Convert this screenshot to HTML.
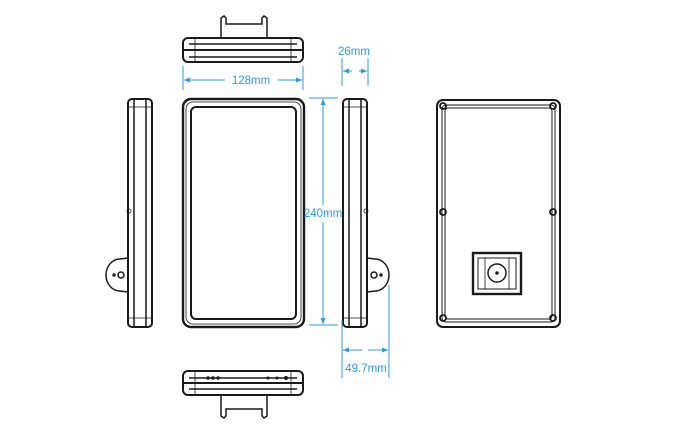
<!DOCTYPE html>
<html><head><style>html,body{margin:0;padding:0;background:#fff}svg{display:block}</style></head><body>
<svg width="685" height="435" viewBox="0 0 685 435" xmlns="http://www.w3.org/2000/svg" font-family="Liberation Sans, sans-serif">
<defs>
<marker id="a" markerWidth="6" markerHeight="6" refX="6" refY="3" orient="auto"><path d="M0,0.5 L6,3 L0,5.5 z" fill="#2a9be0"/></marker>
</defs>
<g fill="none" stroke="#1a1a1a" stroke-width="1.5">
<path d="M221,38 L221,18 L224,16 L226,18 L226,24 L262,24 L262,18 L264,16 L267,18 L267,38"/>
<rect x="183" y="38" width="120" height="24" rx="5" stroke-width="2"/>
<line x1="189" y1="44" x2="297" y2="44"/><line x1="183" y1="50" x2="303" y2="50" stroke-width="2"/><line x1="189" y1="57" x2="297" y2="57"/>
<line x1="195" y1="38" x2="195" y2="62" stroke-width="0.8"/><line x1="291" y1="38" x2="291" y2="62" stroke-width="0.8"/>
<rect x="183" y="99" width="121" height="228" rx="8" stroke-width="2.4"/>
<rect x="191" y="107" width="105" height="212" rx="5" stroke-width="2"/>
<rect x="186" y="102" width="115" height="222" rx="7" stroke-width="0.8"/>
<rect x="128" y="99" width="24" height="228" rx="4" stroke-width="2"/>
<line x1="134" y1="100" x2="134" y2="326"/><line x1="146" y1="100" x2="146" y2="326"/>
<line x1="129" y1="107" x2="151" y2="107" stroke-width="0.8"/><line x1="129" y1="318" x2="151" y2="318" stroke-width="0.8"/>
<path d="M128,258 L120,259 A14,16 0 0 0 120,291 L128,292"/>
<circle cx="121" cy="275" r="3"/><circle cx="114" cy="275" r="1"/>
<circle cx="129" cy="211" r="2" stroke-width="0.8"/>
<rect x="343" y="99" width="24" height="228" rx="4" stroke-width="2"/>
<line x1="349" y1="100" x2="349" y2="326"/><line x1="361" y1="100" x2="361" y2="326"/>
<line x1="344" y1="107" x2="366" y2="107" stroke-width="0.8"/><line x1="344" y1="318" x2="366" y2="318" stroke-width="0.8"/>
<path d="M367,258 L375,259 A14,16 0 0 1 375,291 L367,292"/>
<circle cx="374" cy="275" r="3"/><circle cx="381" cy="275" r="1"/>
<circle cx="366" cy="211" r="2" stroke-width="0.8"/>
<rect x="183" y="371" width="120" height="24" rx="5" stroke-width="2"/>
<line x1="189" y1="378" x2="297" y2="378"/><line x1="183" y1="383" x2="303" y2="383" stroke-width="2"/><line x1="189" y1="389" x2="297" y2="389"/>
<line x1="195" y1="371" x2="195" y2="395" stroke-width="0.8"/><line x1="291" y1="371" x2="291" y2="395" stroke-width="0.8"/>
<path d="M221,395 L221,416 L224,418 L226,416 L226,409 L262,409 L262,416 L264,418 L267,416 L267,395"/>
<circle cx="208" cy="378" r="1"/><circle cx="213" cy="378" r="1"/><circle cx="218" cy="378" r="1"/>
<circle cx="268" cy="378" r="0.8"/><circle cx="277" cy="378" r="0.8"/><circle cx="286" cy="378" r="1.3" fill="#222"/>
<rect x="437" y="100" width="123" height="227" rx="6" stroke-width="2"/>
<rect x="442" y="105" width="113" height="217" rx="4" stroke-width="1"/>
<rect x="445" y="108" width="107" height="211" rx="3" stroke-width="1"/>
<g stroke-width="1.8">
<circle cx="443" cy="106" r="3"/><circle cx="553" cy="106" r="3"/>
<circle cx="443" cy="212" r="3"/><circle cx="553" cy="212" r="3"/>
<circle cx="443" cy="318" r="3"/><circle cx="553" cy="318" r="3"/>
</g>
<rect x="473" y="253" width="48" height="41" stroke-width="2.4"/>
<rect x="478" y="258" width="38" height="31" stroke-width="1"/>
<circle cx="497" cy="273" r="9"/><circle cx="497" cy="273" r="1" fill="#222"/>
<line x1="485" y1="258" x2="485" y2="289" stroke-width="0.8"/><line x1="509" y1="258" x2="509" y2="289" stroke-width="0.8"/>
</g>
<g stroke="#2a9be0" stroke-width="1" fill="none">
<line x1="183" y1="66" x2="183" y2="90"/><line x1="303" y1="66" x2="303" y2="90"/>
<line x1="225" y1="80" x2="184" y2="80" marker-end="url(#a)"/><line x1="278" y1="80" x2="302" y2="80" marker-end="url(#a)"/>
<line x1="342" y1="58" x2="342" y2="86"/><line x1="368" y1="58" x2="368" y2="86"/>
<line x1="352" y1="71" x2="343" y2="71" marker-end="url(#a)"/><line x1="359" y1="71" x2="367" y2="71" marker-end="url(#a)"/>
<line x1="309" y1="98" x2="338" y2="98"/><line x1="309" y1="325" x2="338" y2="325"/>
<line x1="323" y1="205" x2="323" y2="99" marker-end="url(#a)"/><line x1="323" y1="222" x2="323" y2="324" marker-end="url(#a)"/>
<line x1="342" y1="320" x2="342" y2="378"/><line x1="389" y1="285" x2="389" y2="378"/>
<line x1="362" y1="350" x2="343" y2="350" marker-end="url(#a)"/><line x1="368" y1="350" x2="388" y2="350" marker-end="url(#a)"/>
</g>
<g fill="#2a9be0" font-size="11.5" text-anchor="middle">
<text x="251" y="84">128mm</text>
<text x="354" y="55">26mm</text>
<text x="323" y="217">240mm</text>
<text x="366" y="372">49.7mm</text>
</g>
</svg>
</body></html>
